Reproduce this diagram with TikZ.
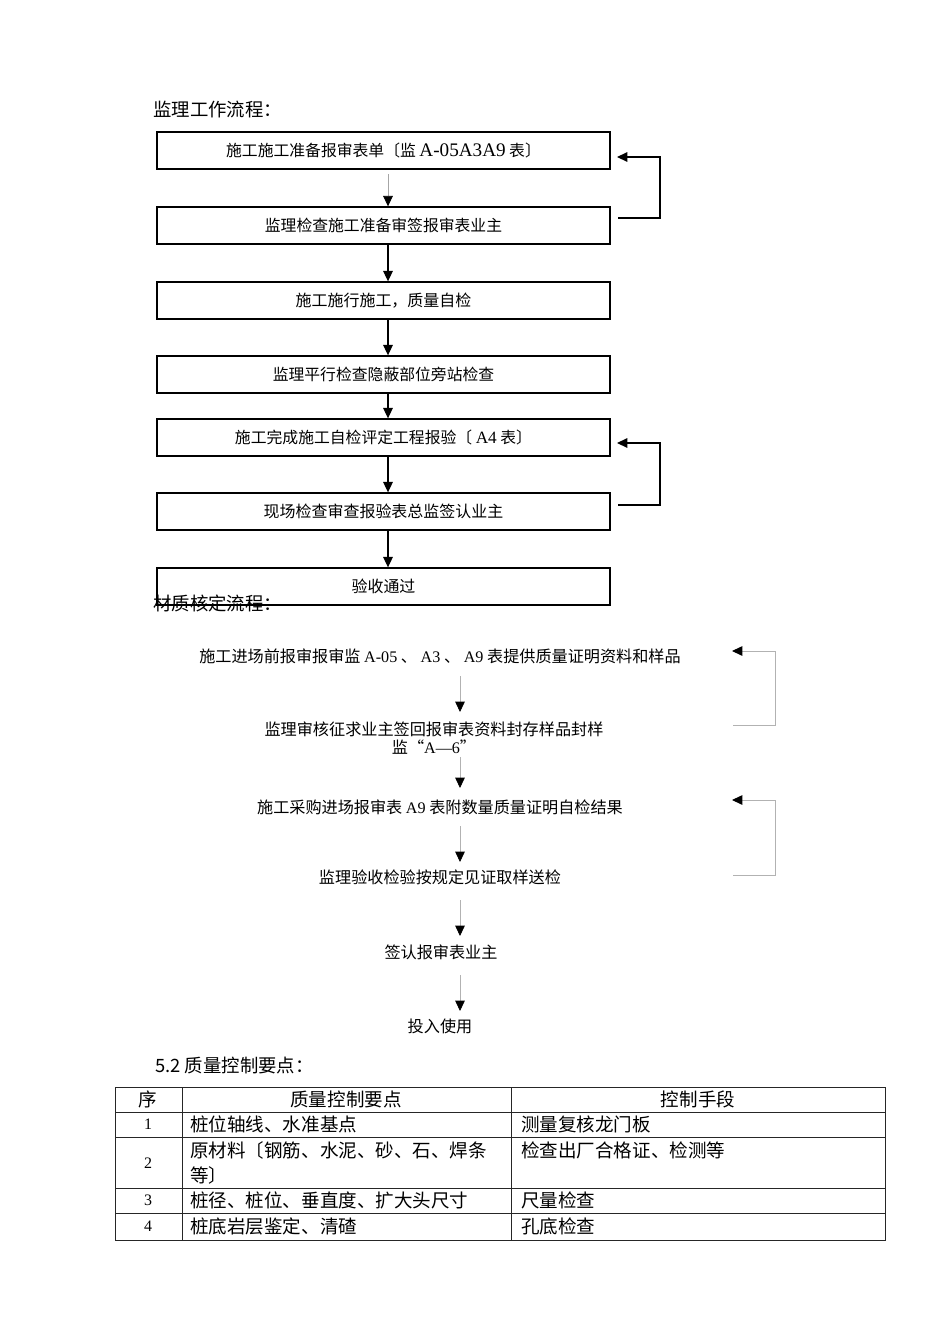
\documentclass[tikz,border=0pt]{standalone}
\usepackage{fontspec}
\setmainfont{Noto Sans CJK SC}
\newfontfamily\lat{Liberation Serif}
\usetikzlibrary{arrows.meta}
\begin{document}
\begin{tikzpicture}[x=0.626pt,y=-0.626pt,
  flowbox/.style={draw, line width=0.8pt, minimum width=283.6pt, minimum height=23.2pt, inner sep=0pt, font=\fontsize{9.9}{11}\selectfont},
  tip/.style={-{Triangle[length=6.5pt,width=6pt,color=black]}},
  barr/.style={tip, line width=0.75pt},
  garr/.style={tip, line width=0.5pt, draw=gray!60},
  gloop/.style={tip, line width=0.6pt, draw=gray!60},
  heading/.style={anchor=west, inner sep=0pt, font=\fontsize{11.5}{13}\selectfont},
  ftext/.style={inner sep=2pt, font=\fontsize{10.1}{12}\selectfont, align=center},
  cell/.style={inner sep=0pt, font=\fontsize{11.6}{15}\selectfont},
  tline/.style={line width=0.6pt, draw=black!85}
]
\useasboundingbox (0,0) rectangle (950,1344);

% ---------- Flow 1 ----------
\node[heading] (h1) at (153,110) {监理工作流程：};

\node[flowbox] (b1) at (383.5,150.5) {施工施工准备报审表单〔监 {\lat\fontsize{12}{12}\selectfont A-05A3A9} 表〕};
\node[flowbox] (b2) at (383.5,225.5) {监理检查施工准备审签报审表业主};
\node[flowbox, font=\fontsize{10}{12}\selectfont] (b3) at (383.5,300.5) {施工施行施工，质量自检};
\node[flowbox] (b4) at (383.5,374.5) {监理平行检查隐蔽部位旁站检查};
\node[flowbox] (b5) at (383.5,437.5) {施工完成施工自检评定工程报验〔 {\lat\fontsize{10.8}{12}\selectfont A4} 表〕};
\node[flowbox, font=\fontsize{10}{12}\selectfont] (b6) at (383.5,511.5) {现场检查审查报验表总监签认业主};
\node[flowbox, font=\fontsize{10}{12}\selectfont] (b7) at (383.5,586.5) {验收通过};

\coordinate (ax) at (388,0);
\draw[garr, draw=gray!70] ([yshift=-3pt]b1.south -| ax) -- (b2.north -| ax);
\draw[barr] (b2.south -| ax) -- (b3.north -| ax);
\draw[barr] (b3.south -| ax) -- (b4.north -| ax);
\draw[barr] (b4.south -| ax) -- (b5.north -| ax);
\draw[barr] (b5.south -| ax) -- (b6.north -| ax);
\draw[barr] (b6.south -| ax) -- (b7.north -| ax);

\coordinate (l1a) at (618,218);
\coordinate (l1b) at (660,218);
\coordinate (l1c) at (660,157);
\coordinate (l1d) at (617,157);
\draw[barr] (l1a) -- (l1b) -- (l1c) -- (l1d);

\coordinate (l2a) at (618,505);
\coordinate (l2b) at (660,505);
\coordinate (l2c) at (660,443);
\coordinate (l2d) at (617,443);
\draw[barr] (l2a) -- (l2b) -- (l2c) -- (l2d);

\node[heading] (h2) at (153,603) {材质核定流程：};

% ---------- Flow 2 ----------
\node[ftext] (t1) at (440,656) {施工进场前报审报审监 {\lat A-05} 、 {\lat A3} 、 {\lat A9} 表提供质量证明资料和样品};
\node[ftext] (t2) at (434,738) {监理审核征求业主签回报审表资料封存样品封样\\[-1pt]监“{\lat A—6}”};
\node[ftext] (t3) at (440,807) {施工采购进场报审表 {\lat A9} 表附数量质量证明自检结果};
\node[ftext] (t4) at (440,877) {监理验收检验按规定见证取样送检};
\node[ftext] (t5) at (441,952) {签认报审表业主};
\node[ftext] (t6) at (440,1026) {投入使用};

\draw[garr] (460,676) -- (460,712);
\draw[garr] (460,757) -- (460,788);
\draw[garr] (460,826) -- (460,862);
\draw[garr] (460,900) -- (460,936);
\draw[garr] (460,975) -- (460,1011);

\coordinate (m1a) at (733,725);
\coordinate (m1b) at (775,725);
\coordinate (m1c) at (775,651);
\coordinate (m1d) at (732,651);
\draw[gloop] (m1a) -- (m1b) -- (m1c) -- (m1d);

\coordinate (m2a) at (733,875);
\coordinate (m2b) at (775,875);
\coordinate (m2c) at (775,800);
\coordinate (m2d) at (732,800);
\draw[gloop] (m2a) -- (m2b) -- (m2c) -- (m2d);

% ---------- Table ----------
\node[heading] (h3) at (155,1065) {5.2 质量控制要点：};

\draw[tline] (115,1087) rectangle (885,1240);
\draw[tline] (115,1112) -- (885,1112);
\draw[tline] (115,1137) -- (885,1137);
\draw[tline] (115,1188) -- (885,1188);
\draw[tline] (115,1213) -- (885,1213);
\draw[tline] (182,1087) -- (182,1240);
\draw[tline] (511,1087) -- (511,1240);

\node[cell] (c00) at (148,1099.5) {序};
\node[cell] (c01) at (346,1099.5) {质量控制要点};
\node[cell] (c02) at (698,1099.5) {控制手段};

\node[cell, font=\lat\fontsize{10}{12}\selectfont] (c10) at (148,1124.5) {1};
\node[cell, anchor=west] (c11) at (190,1124.5) {桩位轴线、水准基点};
\node[cell, anchor=west] (c12) at (521,1124.5) {测量复核龙门板};

\node[cell, font=\lat\fontsize{10}{12}\selectfont] (c20) at (148,1163) {2};
\node[cell, anchor=west] (c21a) at (190,1150) {原材料〔钢筋、水泥、砂、石、焊条};
\node[cell, anchor=west] (c21b) at (190,1175) {等〕};
\node[cell, anchor=west] (c22) at (521,1150) {检查出厂合格证、检测等};

\node[cell, font=\lat\fontsize{10}{12}\selectfont] (c30) at (148,1200.5) {3};
\node[cell, anchor=west] (c31) at (190,1200.5) {桩径、桩位、垂直度、扩大头尺寸};
\node[cell, anchor=west] (c32) at (521,1200.5) {尺量检查};

\node[cell, font=\lat\fontsize{10}{12}\selectfont] (c40) at (148,1226.5) {4};
\node[cell, anchor=west] (c41) at (190,1226.5) {桩底岩层鉴定、清碴};
\node[cell, anchor=west] (c42) at (521,1226.5) {孔底检查};
\end{tikzpicture}
\end{document}
